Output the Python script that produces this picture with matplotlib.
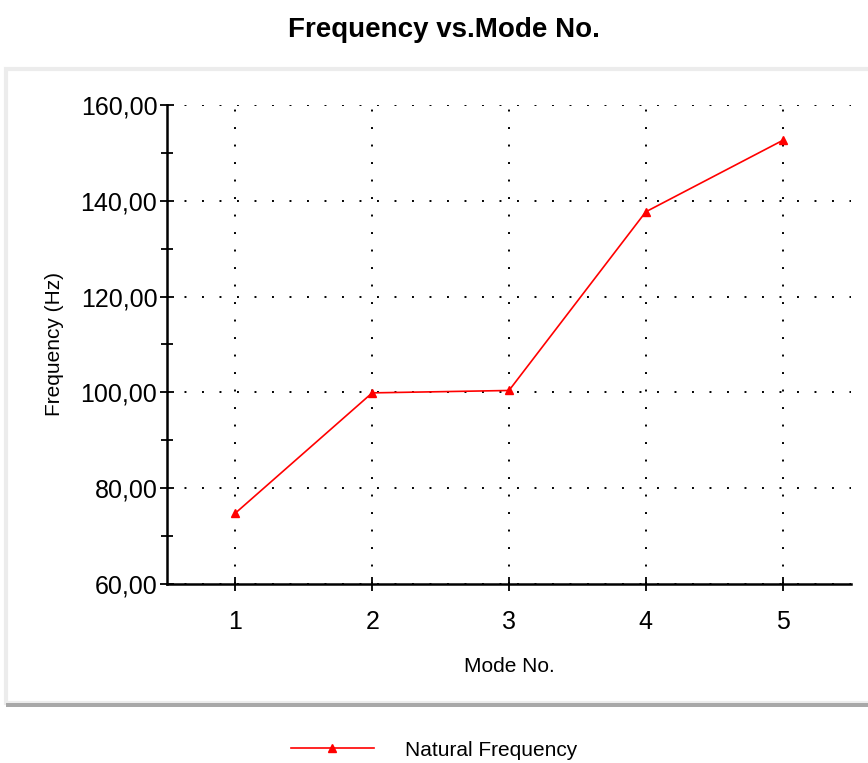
import matplotlib.pyplot as plt
from matplotlib.patches import Rectangle
from matplotlib.ticker import MultipleLocator, FuncFormatter

plt.rcParams['font.family'] = ['Liberation Sans Narrow', 'Liberation Sans', 'DejaVu Sans']

# data
modes = [1, 2, 3, 4, 5]
frequencies = [74.8, 99.9, 100.4, 137.7, 152.6]
series_label = 'Natural Frequency'

fig = plt.figure(figsize=(8.68, 7.63), dpi=100)

# background panel around the plot
fig.patches.append(Rectangle((0.007, 0.078), 1.0, 0.832, transform=fig.transFigure,
                             facecolor='white', edgecolor='#ECECEC', linewidth=3, zorder=-2))
fig.patches.append(Rectangle((0.007, 0.074), 1.0, 0.005, transform=fig.transFigure,
                             facecolor='#A8A8A8', edgecolor='none', zorder=-1))

ax = fig.add_axes([0.1924, 0.2346, 0.7880, 0.6278])
ax.set_facecolor('none')

line, = ax.plot(modes, frequencies, color='red', linewidth=1.2, marker='^',
                markersize=6, label=series_label, zorder=3)

ax.set_xlim(0.5, 5.5)
ax.set_ylim(60, 160)
ax.set_xticks(modes)
ax.yaxis.set_major_locator(MultipleLocator(20))
ax.yaxis.set_minor_locator(MultipleLocator(10))
ax.yaxis.set_major_formatter(FuncFormatter(lambda v, p: f'{v:.2f}'.replace('.', ',')))

for s in ['top', 'right']:
    ax.spines[s].set_visible(False)
for s in ['left', 'bottom']:
    ax.spines[s].set_linewidth(1.8)

ax.tick_params(axis='both', which='both', direction='inout', width=1.3, colors='black')
ax.tick_params(axis='both', which='major', length=10, labelsize=18, pad=2)
ax.tick_params(axis='y', which='minor', length=8)
ax.tick_params(axis='x', which='major', pad=14)

ax.grid(True, which='major', color='black', linestyle=(0, (1, 8)), linewidth=1.4)

ax.set_xlabel('Mode No.', fontsize=15, labelpad=16)
ax.set_ylabel('Frequency (Hz)', fontsize=15, labelpad=12)

fig.suptitle('Frequency vs.Mode No.', fontsize=20, fontweight='bold', x=0.512, y=0.978)

fig.legend(handles=[line], loc='center', bbox_to_anchor=(0.5, 0.017), frameon=False,
           fontsize=15, handlelength=4.0, handletextpad=1.5)

fig.savefig('out.png', dpi=100)
